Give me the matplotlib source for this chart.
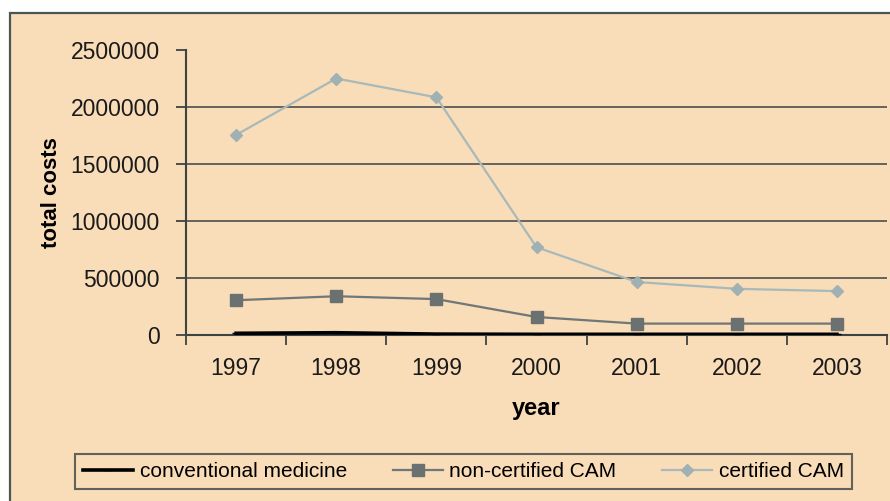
import numpy as np
import matplotlib.pyplot as plt
from matplotlib.patches import Rectangle

years = ['1997', '1998', '1999', '2000', '2001', '2002', '2003']
conventional = [15000, 20000, 8000, 6000, 6000, 6000, 6000]
non_certified = [305000, 340000, 315000, 158000, 100000, 100000, 100000]
certified = [1755000, 2250000, 2085000, 770000, 465000, 405000, 385000]
y_ticks = [0, 500000, 1000000, 1500000, 2000000, 2500000]

bg = '#F9DCB8'
dark = '#3C4343'

plt.rcParams['font.family'] = ['Liberation Sans', 'DejaVu Sans']

fig = plt.figure(figsize=(8.9, 5.01), dpi=100)
fig.patch.set_facecolor('white')
# outer chart frame (runs off the right and bottom edges)
fig.patches.append(Rectangle((10 / 890, -0.05), 1.0, 1 - 13 / 501 + 0.05,
                             transform=fig.transFigure, facecolor=bg,
                             edgecolor='#4A5656', linewidth=1.6, zorder=-5))

ax = fig.add_axes([186 / 890, 1 - 335 / 501, 701 / 890, 285 / 501])
ax.set_facecolor('none')
ax.set_zorder(2)

x = np.arange(len(years))
ax.plot(x, conventional, color='black', lw=2.6, marker='_', ms=6,
        label='conventional medicine', zorder=4)
ax.plot(x, non_certified, color='#6F7878', lw=1.6, marker='s', ms=9,
        mfc='#6B7070', mec='#6B7070', label='non-certified CAM', zorder=3)
ax.plot(x, certified, color='#A8B9BA', lw=1.6, marker='D', ms=6,
        mfc='#9FB1B2', mec='#9FB1B2', label='certified CAM', zorder=3)

ax.set_xlim(-0.5, len(years) - 0.5)
ax.set_ylim(0, 2500000)
ax.set_yticks(y_ticks)
ax.set_yticklabels([str(v) for v in y_ticks], fontsize=16.5, color='#1A1A1A')
ax.set_xticks(x)
ax.set_xticklabels(years, fontsize=16.5, color='#1A1A1A')
ax.set_xticks(np.arange(-0.5, len(years)), minor=True)
ax.tick_params(axis='x', which='major', length=0, pad=16)
ax.tick_params(axis='x', which='minor', length=7, width=1.3, color=dark)
ax.tick_params(axis='y', length=7, width=1.3, color=dark, pad=12)

for v in y_ticks[1:-1]:
    ax.axhline(v, color=dark, lw=1.1, zorder=1)

for s in ['top', 'right']:
    ax.spines[s].set_visible(False)
for s in ['left', 'bottom']:
    ax.spines[s].set_color(dark)
    ax.spines[s].set_linewidth(1.5)

ax.set_ylabel('total costs', fontsize=16, fontweight='bold', labelpad=6)
ax.set_xlabel('year', fontsize=17, fontweight='bold', labelpad=12)

leg = fig.legend(loc='center', ncol=3, bbox_to_anchor=(75 / 890, 1 - 495 / 501, 777 / 890, 47 / 501),
                 mode='expand', fontsize=15, frameon=True, fancybox=False,
                 handlelength=2.4, handletextpad=0.3, borderaxespad=0)
leg.get_frame().set_edgecolor(dark)
leg.get_frame().set_facecolor('none')
leg.get_frame().set_linewidth(1.5)

plt.savefig('out.png', dpi=100, facecolor=fig.get_facecolor())
